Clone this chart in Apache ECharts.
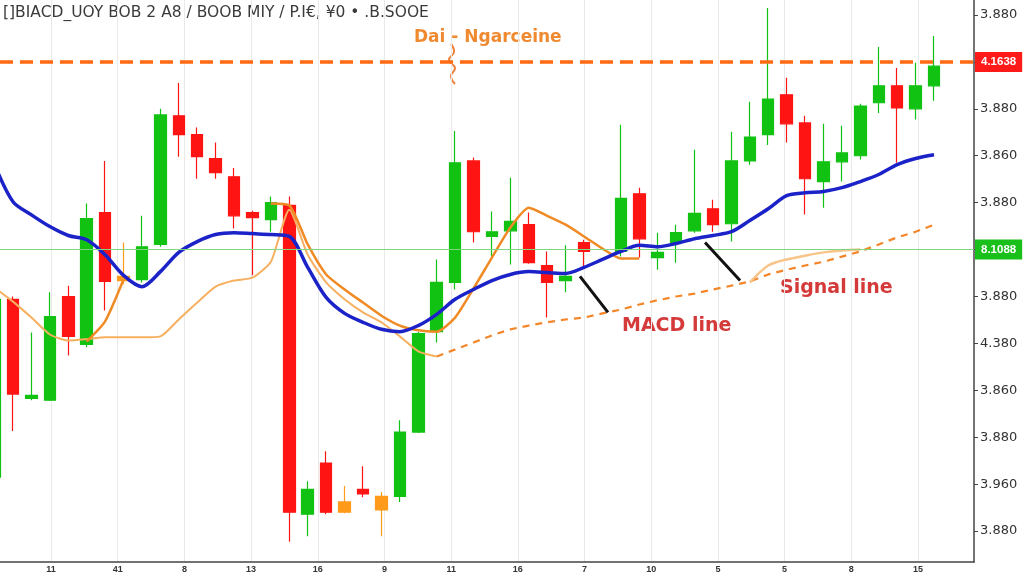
<!DOCTYPE html>
<html><head><meta charset="utf-8">
<script src="https://cdn.jsdelivr.net/npm/echarts@6/dist/echarts.min.js"></script>
<style>html,body{margin:0;padding:0;background:#fff}#c{width:1024px;height:574px}</style>
</head><body><div id="c"></div>
<script>
// ---- data (slot index -1 .. 50) ----
const slotStart = -1;
const opens  = [11.5,49.4,28.3,27.9,50.0,39.8,67.9,54.3,53.6,61.1,88.5,84.5,79.4,75.5,67.9,66.4,69.4,3.6,14.5,6.2,8.9,7.4,7.4,21.1,42.5,53.0,78.9,62.8,64.0,65.3,56.6,53.4,61.5,null,59.6,71.9,58.3,61.5,64.0,68.7,65.5,78.9,84.5,93.0,87.0,74.5,78.7,80.0,91.3,94.9,90.0,94.9];
const closes = [49.4,29.2,28.9,45.7,41.5,66.6,53.2,53.4,60.6,88.7,84.5,79.8,76.4,67.2,66.8,70.0,4.0,8.9,4.0,4.0,7.9,4.5,21.1,42.1,53.0,78.5,63.8,63.8,66.0,57.2,53.0,54.3,59.6,null,70.9,62.3,59.4,63.6,67.7,65.3,78.9,84.0,92.1,86.8,75.1,78.7,80.6,90.6,94.9,90.2,94.9,99.1];
const lows   = [11.1,21.3,27.9,27.7,37.4,39.2,47.0,52.6,53.0,60.6,79.8,75.1,75.1,64.5,54.5,63.8,-2.3,-1.1,3.6,3.8,7.2,-1.1,6.2,20.9,40.2,51.5,61.5,58.5,56.8,57.0,45.5,50.9,56.4,null,58.5,58.3,55.7,57.2,63.6,63.8,61.7,78.1,82.3,82.8,67.5,68.9,74.5,79.2,89.1,78.5,87.7,91.7];
const highs  = [50.4,50.0,42.3,50.9,52.3,69.8,78.9,61.5,67.2,90.0,95.5,86.0,82.8,77.4,68.3,71.3,71.3,10.6,17.0,9.6,13.8,8.3,23.6,42.5,57.9,85.3,79.6,68.1,75.3,67.9,59.6,60.9,62.1,null,86.6,73.2,63.6,65.3,81.3,70.6,85.1,91.5,111.5,96.6,88.5,86.8,86.4,91.1,103.2,98.7,99.8,105.5];
const orangeCandles = [6, 18, 20];

const blueLine = [78.1,70.2,67.4,64.9,63.0,62.1,58.9,54.5,52.1,55.3,59.4,61.7,63.2,63.6,63.4,63.2,62.8,56.2,49.8,46.4,44.5,43.0,42.5,43.8,46.2,49.4,51.5,53.4,54.7,55.3,55.1,54.9,56.2,57.9,59.6,60.9,60.6,61.3,62.3,63.0,63.8,66.2,68.7,71.5,72.1,72.4,73.2,74.5,76.0,78.1,79.4,80.2];
const macdStart = 4;
const macdLine = [40.4,44.7,53.6,null,null,null,null,null,null,null,69.8,69.4,61.1,54.7,51.5,48.7,45.9,43.8,42.8,42.5,45.5,51.7,58.3,64.7,68.9,67.2,65.3,62.8,60.2,58.1,58.1];
const signalStart = -1;
const signalLine = [51.9,48.9,45.5,41.9,40.6,40.9,41.3,41.3,41.3,41.5,45.1,48.7,52.1,53.4,54.0,57.4,68.5,58.9,53.0,49.4,46.6,44.5,41.5,38.3,37.2];
const signalDashStart = 23;
const signalDash = [37.2,38.7,40.2,41.7,43.0,43.8,44.5,45.1,45.5,46.4,47.2,48.3,49.2,50.0,50.6,51.5,52.3,53.2,54.7,55.7,56.6,57.4,58.5,59.6,61.1,62.6,63.8,65.3];
const signalTailStart = 40;
const signalTail = [53.0,56.6,57.9,58.7,59.4,59.8,60.0];

const resistance = {value: 100, label: '4.1638'};
const support = {value: 60, label: '8.1088'};
const arrows = [[[30.78,54.3],[32.30,46.6]], [[37.57,61.5],[39.47,53.4]]];

const xTickValues = [0,1,2,3,4,5,6,7,8,9,10,11,12,13];
const xTickLabels = ['11','41','8','13','16','9','11','16','7','10','5','5','8','15'];
const yTickValues = [0,10,20,30,40,50,60,70,80,90,100,110];
const yTickLabels = ['3.880','3.960','3.880','3.860','4.380','3.880','','3.880','3.860','3.880','','3.880'];

const titleText = '[]BIACD_UOY BOB 2 A8 / BOOB MIY / P.I€, ¥0 • .B.SOOE';
const noteText = 'Dai - Ngarceine';
const macdLabel = 'MACD line';
const signalLabel = 'Signal line';

// ---- build ----
const GREEN = '#12c212', RED = '#ff1414', ORANGE = '#ff9a1a';
const candleData = [];
for (let k = 0; k < opens.length; k++) {
  if (opens[k] == null) continue;
  const x = slotStart + k;
  const item = {value: [x, opens[k], closes[k], lows[k], highs[k]]};
  if (orangeCandles.includes(x)) item.itemStyle = {color: ORANGE, color0: ORANGE, borderColor: ORANGE, borderColor0: ORANGE};
  candleData.push(item);
}
const pairs = (start, arr) => arr.map((v, k) => [start + k, v]);

const chart = echarts.init(document.getElementById('c'));
chart.setOption({
  animation: false,
  backgroundColor: '#ffffff',
  grid: {left: 0, right: 50, top: 0, bottom: 11, containLabel: false},
  xAxis: [
    {type: 'value', min: -0.706, max: 52.17, show: false, axisLine: {onZero: false}},
    {type: 'value', min: -0.765, max: 13.84, position: 'bottom',
     axisLine: {show: true, onZero: false, lineStyle: {color: '#444', width: 1.5}},
     axisTick: {show: false, customValues: xTickValues},
     splitLine: {show: true, lineStyle: {color: '#e9e9e9', width: 1}},
     axisLabel: {customValues: xTickValues, fontSize: 9, color: '#333', margin: 3, fontWeight: 'bold',
       formatter: v => xTickLabels[Math.round(v)] || ''}}
  ],
  yAxis: [{
    type: 'value', min: -6.6, max: 113.2, position: 'right',
    axisLine: {show: true, onZero: false, lineStyle: {color: '#444', width: 1.5}},
    axisTick: {show: true, length: 4, customValues: yTickValues, lineStyle: {color: '#444'}},
    splitLine: {show: false},
    axisLabel: {customValues: yTickValues, fontSize: 13, color: '#333', margin: 6, fontFamily: 'DejaVu Sans',
      formatter: v => { const i = yTickValues.indexOf(Math.round(v)); return i >= 0 ? yTickLabels[i] : ''; }}
  }],
  series: [
    {type: 'candlestick', xAxisIndex: 0, yAxisIndex: 0, barWidth: 12,
     dimensions: ['x','open','close','lowest','highest'], encode: {x: 0, y: [1,2,3,4]},
     itemStyle: {color: GREEN, color0: RED, borderColor: GREEN, borderColor0: RED, borderWidth: 1.2},
     data: candleData,
     markLine: {silent: true, symbol: ['none','none'], animation: false,
       data: [
         {yAxis: resistance.value, lineStyle: {color: '#ff6a13', width: 3.5, type: [13, 7]},
          label: {show: true, position: 'end', distance: 1, formatter: resistance.label, color: '#fff', backgroundColor: '#ff1a1a', padding: [4, 6], fontSize: 11.5, fontWeight: 'bold'}},
         {yAxis: support.value, lineStyle: {color: '#7fd67f', width: 1.2, type: 'solid'},
          label: {show: true, position: 'end', distance: 1, formatter: support.label, color: '#fff', backgroundColor: '#19c019', padding: [4, 6], fontSize: 11.5, fontWeight: 'bold'}}
       ]}},
    {type: 'line', name: 'signal dash', data: pairs(signalDashStart, signalDash), symbol: 'none',
     lineStyle: {color: '#f4862a', width: 2.2, type: [7, 6]}},
    {type: 'line', name: 'signal tail', data: pairs(signalTailStart, signalTail), symbol: 'none', smooth: 0.3,
     lineStyle: {color: '#f7c48a', width: 2.5}},
    {type: 'line', name: 'signal', data: pairs(signalStart, signalLine), symbol: 'none', smooth: 0.2,
     lineStyle: {color: '#f6b060', width: 2}},
    {type: 'line', name: 'macd', data: pairs(macdStart, macdLine), symbol: 'none', smooth: 0.2, connectNulls: false,
     lineStyle: {color: '#f08a24', width: 2.5}},
    {type: 'line', name: 'ma', data: pairs(slotStart, blueLine), symbol: 'none', smooth: 0.3,
     lineStyle: {color: '#1b22c8', width: 3.5},
     markLine: {silent: true, symbol: ['none','none'], label: {show: false},
       lineStyle: {color: '#111', width: 3, type: 'solid'},
       data: arrows.map(a => [{coord: a[0]}, {coord: a[1]}])}}
  ],
  graphic: [
    {type: 'text', left: 3, top: 5, style: {text: titleText, fontSize: 15.5, fill: '#3a3a3a', fontFamily: 'DejaVu Sans'}},
    {type: 'text', left: 414, top: 29, style: {text: noteText, fontSize: 17, fontWeight: 'bold', fill: '#f08a30', fontFamily: 'DejaVu Sans'}},
    {type: 'polyline', shape: {points: [[451,44],[454,52],[449,60],[455,68],[451,76],[455,84]], smooth: 0.5},
     style: {stroke: '#f0803a', lineWidth: 2, fill: null}},
    {type: 'text', left: 622, top: 317, style: {text: macdLabel, fontSize: 19, fontWeight: 'bold', fill: '#d43a3a', fontFamily: 'DejaVu Sans'}},
    {type: 'text', left: 780, top: 279, style: {text: signalLabel, fontSize: 19, fontWeight: 'bold', fill: '#d43a3a', fontFamily: 'DejaVu Sans'}}
  ]
});
</script>
</body></html>
